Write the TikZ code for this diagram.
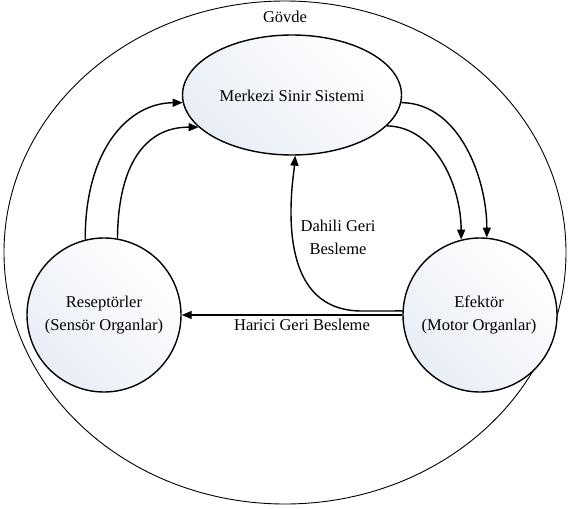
\documentclass[tikz,border=0pt]{standalone}
\usepackage{fontspec}
\setmainfont{Liberation Serif}
\usetikzlibrary{arrows.meta,shapes.geometric}
\definecolor{organtint}{RGB}{232,237,246}

\begin{document}
\begin{tikzpicture}[x=1pt,y=-1pt,
  organ/.style={draw, line width=1.4pt, inner sep=0pt,
    shading=axis, top color=white, bottom color=organtint, shading angle=-45},
  flow/.style={line width=1.4pt, -{Triangle[length=10pt,width=8pt]}},
  txt/.style={font=\fontsize{16.5}{23}\selectfont, align=center, inner sep=0pt}]

\useasboundingbox (0,0) rectangle (569,508);

% body outline
\node[draw, line width=0.9pt, ellipse, minimum width=562pt, minimum height=503pt, inner sep=0pt] (body) at (285,252.5) {};
\node[txt] (bodylbl) at (285,17) {Gövde};

% organs
\node[organ, ellipse, minimum width=219pt, minimum height=120pt] (mer) at (292,95) {};
\node[txt] (merlbl) at (292,96) {Merkezi Sinir Sistemi};

\node[organ, circle, minimum size=154pt] (rec) at (104,315) {};
\node[txt] (reclbl) at (104,315) {Reseptörler\\(Sensör Organlar)};

\node[organ, circle, minimum size=154pt] (eff) at (480,315) {};
\node[txt] (efflbl) at (479,315) {Efektör\\(Motor Organlar)};

% receptors -> central nervous system
\draw[flow] (rec.104) .. controls (85,150) and (128,103) .. (mer.184);
\draw[flow] (rec.80) .. controls (118,165) and (145,127) .. (mer.199);

% central nervous system -> effectors
\draw[flow] (mer.-4) .. controls (460,103) and (487,180) .. (eff.85);
\draw[flow] (mer.-18.6) .. controls (435,127) and (461,185) .. (eff.104);

% internal feedback
\draw[flow] (eff.177) -- (360,311) .. controls (310,310) and (291,270) .. (291,212)
  .. controls (291,188) and (294,172) .. (mer.-87);
\node[txt] (intlbl) at (338,237) {Dahili Geri\\Besleme};

% external feedback
\draw[flow] (eff.west) -- (rec.east);
\node[txt] (extlbl) at (302,325) {Harici Geri Besleme};

\end{tikzpicture}
\end{document}
